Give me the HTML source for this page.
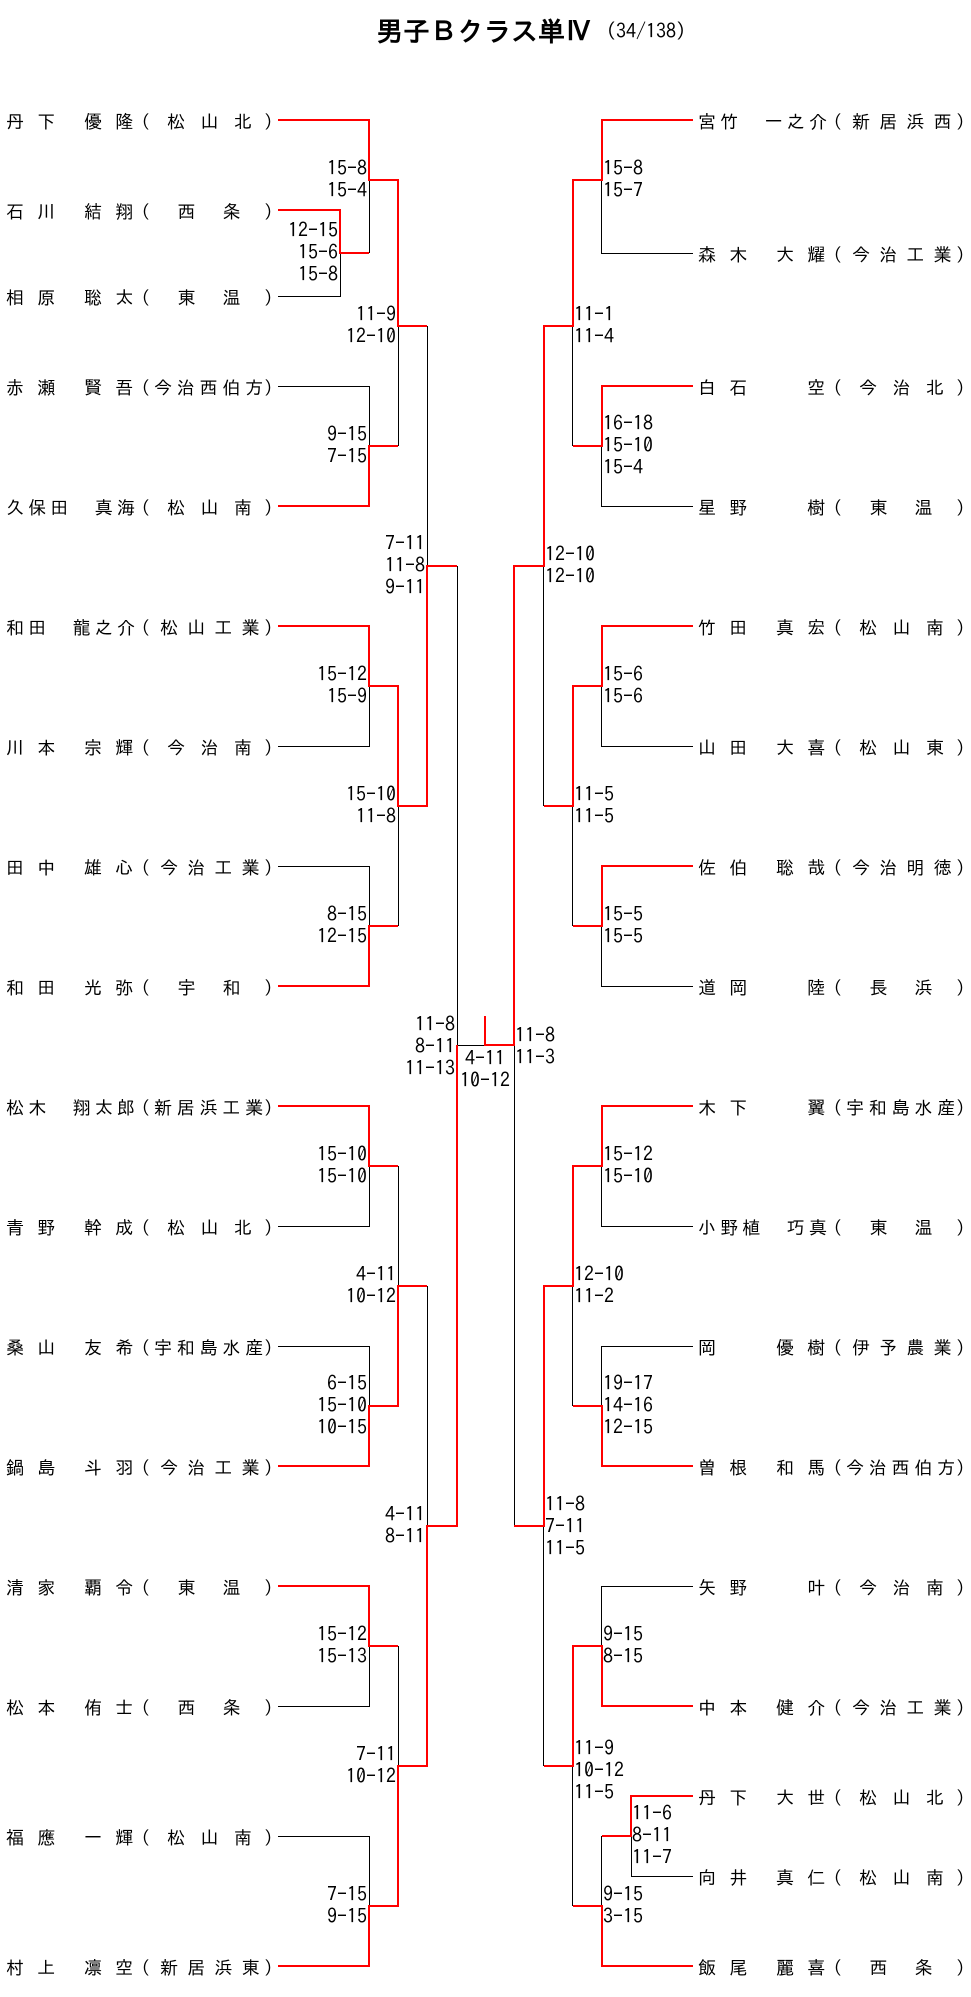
<!DOCTYPE html>
<html lang="ja">
<head>
<meta charset="utf-8">
<style>
body{margin:0;background:#fff}
#w{position:relative;width:971px;height:1997px;overflow:hidden;font-family:"IPAGothic","Noto Sans CJK JP",sans-serif;color:#000;background:#fff}
svg{position:absolute;left:0;top:0}
.r{position:absolute;height:18px;width:290px;font-size:18px;line-height:18px;white-space:pre}
.r span{position:absolute;top:0;white-space:pre}
.L{left:6px}.R{left:698px}
.a{left:0;letter-spacing:-2.4px}
.b{left:0;letter-spacing:4.2px}
.pl{left:126px}
.pr{left:258px}
.s5{left:148px;letter-spacing:4.8px}
.s4{left:154px;letter-spacing:9.2px}
.s3{left:161px;letter-spacing:15.5px}
.s2{left:171.5px;letter-spacing:27px}
.sc{position:absolute;font-size:20px;line-height:22px;white-space:pre}
.sl{text-align:right}
</style>
</head>
<body>
<div id="w">
<svg width="971" height="1997" viewBox="0 0 971 1997" shape-rendering="crispEdges">
<g fill="none" stroke="#000" stroke-width="1">
<path d="M278 296.5H340.5V253"/>
<path d="M369.5 180V253"/>
<path d="M278 386.5H369.5V446"/>
<path d="M398.5 326V446"/>
<path d="M278 746.5H369.5V686"/>
<path d="M278 866.5H369.5V926"/>
<path d="M398.5 806V926"/>
<path d="M427.5 326V566"/>
<path d="M278 1226.5H369.5V1166"/>
<path d="M278 1346.5H369.5V1406"/>
<path d="M398.5 1166V1286"/>
<path d="M278 1706.5H369.5V1646"/>
<path d="M278 1836.5H369.5V1906"/>
<path d="M398.5 1646V1766"/>
<path d="M427.5 1286V1526"/>
<path d="M457.5 566V1045"/>
<path d="M457 1045.5H485"/>
<path d="M693 253.5H601.5V180"/>
<path d="M693 506.5H601.5V446"/>
<path d="M572.5 326V446"/>
<path d="M693 746.5H601.5V686"/>
<path d="M693 986.5H601.5V926"/>
<path d="M572.5 806V926"/>
<path d="M543.5 566V806"/>
<path d="M514.5 1045V1526"/>
<path d="M693 1226.5H601.5V1166"/>
<path d="M693 1346.5H601.5V1406"/>
<path d="M572.5 1286V1406"/>
<path d="M693 1586.5H601.5V1646"/>
<path d="M543.5 1526V1766"/>
<path d="M693 1876.5H631.5V1836"/>
<path d="M601.5 1836V1906"/>
<path d="M572.5 1766V1906"/>
</g>
<g fill="none" stroke="#ff0000" stroke-width="2" stroke-linejoin="miter">
<path d="M278 120H369V180H398V326H427"/>
<path d="M278 210H340V253H369"/>
<path d="M278 506H369V446H398"/>
<path d="M278 626H369V686H398V806H427V566H457"/>
<path d="M278 986H369V926H398"/>
<path d="M278 1106H369V1166H398"/>
<path d="M278 1466H369V1406H398V1286H427"/>
<path d="M278 1586H369V1646H398"/>
<path d="M278 1966H369V1906H398V1766H427V1526H457V1045"/>
<path d="M485 1016V1045H514V566H544V326H573V180H602V120H693"/>
<path d="M693 386H602V446H573"/>
<path d="M693 626H602V686H573V806H544"/>
<path d="M693 866H602V926H573"/>
<path d="M693 1106H602V1166H573V1286H544V1526H514"/>
<path d="M693 1466H602V1406H573"/>
<path d="M693 1706H602V1646H573V1766H544"/>
<path d="M693 1796H631V1836H602"/>
<path d="M693 1966H602V1906H573"/>
</g>
</svg>

<div style="position:absolute;left:376px;top:18px;font-size:27px;line-height:27px;font-weight:bold;white-space:pre">男子Ｂクラス単Ⅳ</div>
<div style="position:absolute;left:606px;top:21px;font-size:20px;line-height:20px;white-space:pre">(34/138)</div>

<!-- Left names -->
<div class="r L" style="top:113px"><span class="a">丹　下　　優　隆</span><span class="pl">（</span><span class="s3">松山北</span><span class="pr">）</span></div>
<div class="r L" style="top:203px"><span class="a">石　川　　結　翔</span><span class="pl">（</span><span class="s2">西条</span><span class="pr">）</span></div>
<div class="r L" style="top:289px"><span class="a">相　原　　聡　太</span><span class="pl">（</span><span class="s2">東温</span><span class="pr">）</span></div>
<div class="r L" style="top:379px"><span class="a">赤　瀬　　賢　吾</span><span class="pl">（</span><span class="s5">今治西伯方</span><span class="pr">）</span></div>
<div class="r L" style="top:499px"><span class="b">久保田　真海</span><span class="pl">（</span><span class="s3">松山南</span><span class="pr">）</span></div>
<div class="r L" style="top:619px"><span class="b">和田　龍之介</span><span class="pl">（</span><span class="s4">松山工業</span><span class="pr">）</span></div>
<div class="r L" style="top:739px"><span class="a">川　本　　宗　輝</span><span class="pl">（</span><span class="s3">今治南</span><span class="pr">）</span></div>
<div class="r L" style="top:859px"><span class="a">田　中　　雄　心</span><span class="pl">（</span><span class="s4">今治工業</span><span class="pr">）</span></div>
<div class="r L" style="top:979px"><span class="a">和　田　　光　弥</span><span class="pl">（</span><span class="s2">宇和</span><span class="pr">）</span></div>
<div class="r L" style="top:1099px"><span class="b">松木　翔太郎</span><span class="pl">（</span><span class="s5">新居浜工業</span><span class="pr">）</span></div>
<div class="r L" style="top:1219px"><span class="a">青　野　　幹　成</span><span class="pl">（</span><span class="s3">松山北</span><span class="pr">）</span></div>
<div class="r L" style="top:1339px"><span class="a">桑　山　　友　希</span><span class="pl">（</span><span class="s5">宇和島水産</span><span class="pr">）</span></div>
<div class="r L" style="top:1459px"><span class="a">鍋　島　　斗　羽</span><span class="pl">（</span><span class="s4">今治工業</span><span class="pr">）</span></div>
<div class="r L" style="top:1579px"><span class="a">清　家　　覇　令</span><span class="pl">（</span><span class="s2">東温</span><span class="pr">）</span></div>
<div class="r L" style="top:1699px"><span class="a">松　本　　侑　士</span><span class="pl">（</span><span class="s2">西条</span><span class="pr">）</span></div>
<div class="r L" style="top:1829px"><span class="a">福　應　　一　輝</span><span class="pl">（</span><span class="s3">松山南</span><span class="pr">）</span></div>
<div class="r L" style="top:1959px"><span class="a">村　上　　凛　空</span><span class="pl">（</span><span class="s4">新居浜東</span><span class="pr">）</span></div>

<!-- Right names -->
<div class="r R" style="top:113px"><span class="b">宮竹　一之介</span><span class="pl">（</span><span class="s4">新居浜西</span><span class="pr">）</span></div>
<div class="r R" style="top:246px"><span class="a">森　木　　大　耀</span><span class="pl">（</span><span class="s4">今治工業</span><span class="pr">）</span></div>
<div class="r R" style="top:379px"><span class="a">白　石　　　　空</span><span class="pl">（</span><span class="s3">今治北</span><span class="pr">）</span></div>
<div class="r R" style="top:499px"><span class="a">星　野　　　　樹</span><span class="pl">（</span><span class="s2">東温</span><span class="pr">）</span></div>
<div class="r R" style="top:619px"><span class="a">竹　田　　真　宏</span><span class="pl">（</span><span class="s3">松山南</span><span class="pr">）</span></div>
<div class="r R" style="top:739px"><span class="a">山　田　　大　喜</span><span class="pl">（</span><span class="s3">松山東</span><span class="pr">）</span></div>
<div class="r R" style="top:859px"><span class="a">佐　伯　　聡　哉</span><span class="pl">（</span><span class="s4">今治明徳</span><span class="pr">）</span></div>
<div class="r R" style="top:979px"><span class="a">道　岡　　　　陸</span><span class="pl">（</span><span class="s2">長浜</span><span class="pr">）</span></div>
<div class="r R" style="top:1099px"><span class="a">木　下　　　　翼</span><span class="pl">（</span><span class="s5">宇和島水産</span><span class="pr">）</span></div>
<div class="r R" style="top:1219px"><span class="b">小野植　巧真</span><span class="pl">（</span><span class="s2">東温</span><span class="pr">）</span></div>
<div class="r R" style="top:1339px"><span class="a">岡　　　　優　樹</span><span class="pl">（</span><span class="s4">伊予農業</span><span class="pr">）</span></div>
<div class="r R" style="top:1459px"><span class="a">曽　根　　和　馬</span><span class="pl">（</span><span class="s5">今治西伯方</span><span class="pr">）</span></div>
<div class="r R" style="top:1579px"><span class="a">矢　野　　　　叶</span><span class="pl">（</span><span class="s3">今治南</span><span class="pr">）</span></div>
<div class="r R" style="top:1699px"><span class="a">中　本　　健　介</span><span class="pl">（</span><span class="s4">今治工業</span><span class="pr">）</span></div>
<div class="r R" style="top:1789px"><span class="a">丹　下　　大　世</span><span class="pl">（</span><span class="s3">松山北</span><span class="pr">）</span></div>
<div class="r R" style="top:1869px"><span class="a">向　井　　真　仁</span><span class="pl">（</span><span class="s3">松山南</span><span class="pr">）</span></div>
<div class="r R" style="top:1959px"><span class="a">飯　尾　　麗　喜</span><span class="pl">（</span><span class="s2">西条</span><span class="pr">）</span></div>

<!-- Left scores -->
<div class="sc sl" style="right:633px;top:219px">12-15<br>15-6<br>15-8</div>
<div class="sc sl" style="right:604px;top:157px">15-8<br>15-4</div>
<div class="sc sl" style="right:604px;top:423px">9-15<br>7-15</div>
<div class="sc sl" style="right:604px;top:663px">15-12<br>15-9</div>
<div class="sc sl" style="right:604px;top:903px">8-15<br>12-15</div>
<div class="sc sl" style="right:604px;top:1143px">15-10<br>15-10</div>
<div class="sc sl" style="right:604px;top:1372px">6-15<br>15-10<br>10-15</div>
<div class="sc sl" style="right:604px;top:1623px">15-12<br>15-13</div>
<div class="sc sl" style="right:604px;top:1883px">7-15<br>9-15</div>
<div class="sc sl" style="right:575px;top:303px">11-9<br>12-10</div>
<div class="sc sl" style="right:575px;top:783px">15-10<br>11-8</div>
<div class="sc sl" style="right:575px;top:1263px">4-11<br>10-12</div>
<div class="sc sl" style="right:575px;top:1743px">7-11<br>10-12</div>
<div class="sc sl" style="right:546px;top:532px">7-11<br>11-8<br>9-11</div>
<div class="sc sl" style="right:546px;top:1503px">4-11<br>8-11</div>
<div class="sc sl" style="right:516px;top:1013px">11-8<br>8-11<br>11-13</div>

<!-- Final -->
<div class="sc" style="left:435px;width:100px;text-align:center;top:1047px">4-11<br>10-12</div>

<!-- Right scores -->
<div class="sc" style="left:515px;top:1024px">11-8<br>11-3</div>
<div class="sc" style="left:545px;top:543px">12-10<br>12-10</div>
<div class="sc" style="left:545px;top:1493px">11-8<br>7-11<br>11-5</div>
<div class="sc" style="left:574px;top:303px">11-1<br>11-4</div>
<div class="sc" style="left:574px;top:783px">11-5<br>11-5</div>
<div class="sc" style="left:574px;top:1263px">12-10<br>11-2</div>
<div class="sc" style="left:574px;top:1737px">11-9<br>10-12<br>11-5</div>
<div class="sc" style="left:603px;top:157px">15-8<br>15-7</div>
<div class="sc" style="left:603px;top:412px">16-18<br>15-10<br>15-4</div>
<div class="sc" style="left:603px;top:663px">15-6<br>15-6</div>
<div class="sc" style="left:603px;top:903px">15-5<br>15-5</div>
<div class="sc" style="left:603px;top:1143px">15-12<br>15-10</div>
<div class="sc" style="left:603px;top:1372px">19-17<br>14-16<br>12-15</div>
<div class="sc" style="left:603px;top:1623px">9-15<br>8-15</div>
<div class="sc" style="left:603px;top:1883px">9-15<br>3-15</div>
<div class="sc" style="left:632px;top:1802px">11-6<br>8-11<br>11-7</div>
</div>
</body>
</html>
